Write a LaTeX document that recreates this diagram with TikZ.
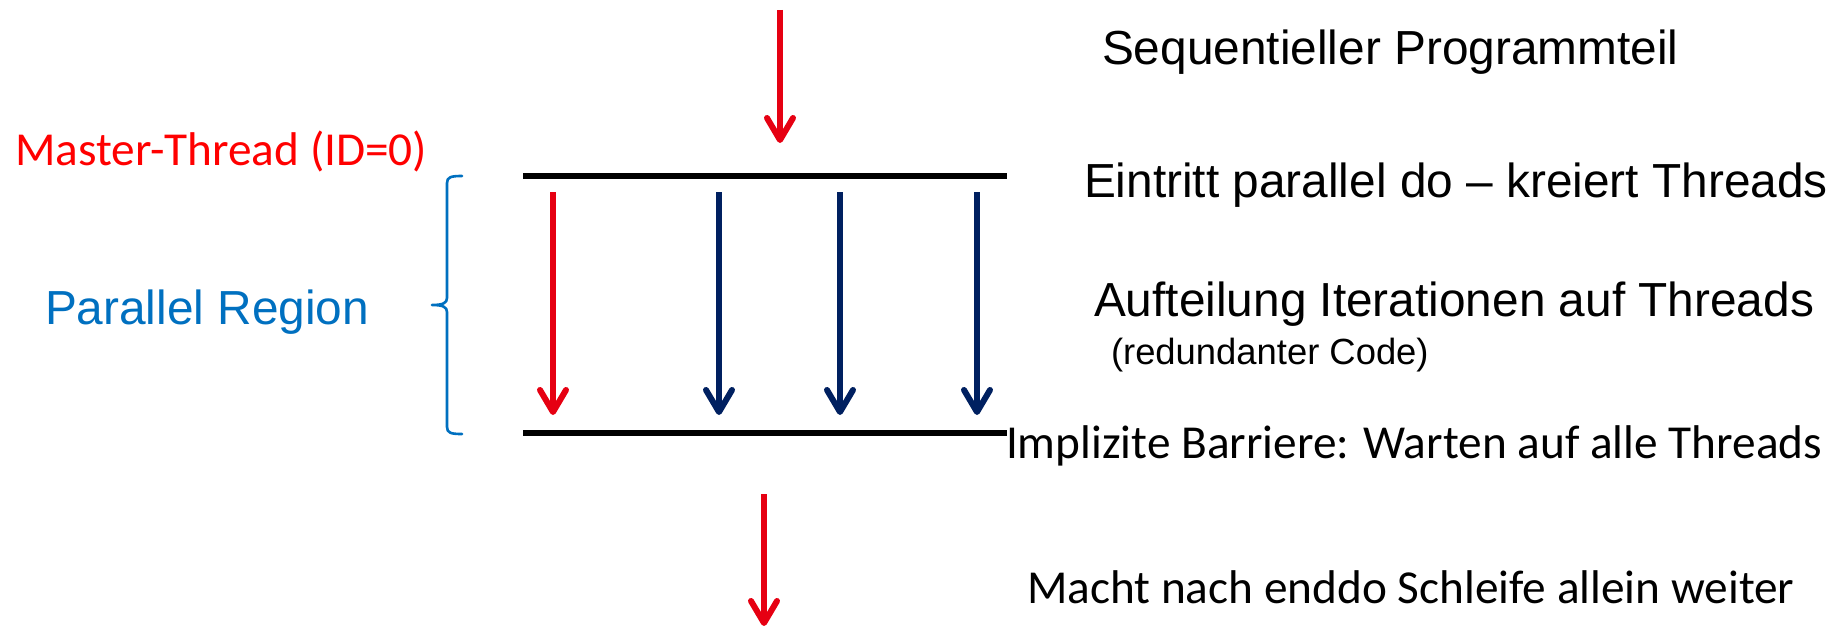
\documentclass[tikz,border=0pt]{standalone}
\usepackage{fontspec}
\newfontfamily\arialf{Liberation Sans}
\newfontfamily\calibrif{Carlito}
\usetikzlibrary{arrows.meta}
\definecolor{arrred}{RGB}{230,0,18}
\definecolor{txtred}{RGB}{255,0,0}
\definecolor{navy}{RGB}{0,32,96}
\definecolor{regblue}{RGB}{0,112,192}
\tikzset{
  thr/.style={line width=5.5pt,-{Straight Barb[length=22pt,width=26pt,line width=6pt,line cap=round,line join=round]}},
  barrier/.style={line width=6.5pt,black},
  lbl/.style={anchor=base west,inner sep=0pt,outer sep=0pt},
  arbig/.style={lbl,font=\arialf\fontsize{47.8}{57}\selectfont},
  arsmall/.style={lbl,font=\arialf\fontsize{36.4}{44}\selectfont},
  calbig/.style={lbl,font=\calibrif\fontsize{47.3}{57}\selectfont},
}
\begin{document}
\begin{tikzpicture}[x=1pt,y=-1pt]
\useasboundingbox[fill=white] (0,0) rectangle (1847,626);
% coordinates
\coordinate (s0) at (780,10);  \coordinate (e0) at (780,143);
\coordinate (s1) at (553,192); \coordinate (e1) at (553,415);
\coordinate (s2) at (719,192); \coordinate (e2) at (719,415);
\coordinate (s3) at (840,192); \coordinate (e3) at (840,415);
\coordinate (s4) at (977,192); \coordinate (e4) at (977,415);
\coordinate (s5) at (764,494); \coordinate (e5) at (764,626);
\coordinate (b1l) at (523,176); \coordinate (b1r) at (1007,176);
\coordinate (b2l) at (523,433); \coordinate (b2r) at (1007,433);
% barriers
\draw[barrier] (b1l) -- (b1r);
\draw[barrier] (b2l) -- (b2r);
% threads
\draw[thr,arrred] (s0) -- (e0);
\draw[thr,arrred] (s1) -- (e1);
\draw[thr,navy] (s2) -- (e2);
\draw[thr,navy] (s3) -- (e3);
\draw[thr,navy] (s4) -- (e4);
\draw[thr,arrred] (s5) -- (e5);
% brace
\draw[regblue,line width=2.6pt,line cap=round,line join=round]
  (462,176) .. controls (451,176) and (447,177) .. (447,183)
  -- (447,298) .. controls (447,303) and (443,305) .. (432,305)
  .. controls (443,305) and (447,307) .. (447,312)
  -- (447,427) .. controls (447,433) and (451,434) .. (462,434);
% labels
\node[calbig,text=txtred] (master) at (15,165) {Master-Thread (ID=0)};
\node[arbig,text=regblue] (region) at (45,324) {Parallel Region};
\node[arbig] (seq) at (1102,65) {Sequentieller Programmteil};
\node[arbig] (entry) at (1084,197) {Eintritt parallel do – kreiert Threads};
\node[arbig] (split) at (1094,316) {Aufteilung Iterationen auf Threads};
\node[arsmall] (red) at (1111,364) {(redundanter Code)};
\node[calbig] (barr) at (1006,458) {Implizite Barriere: Warten auf alle Threads};
\node[calbig] (cont) at (1027,603) {Macht nach enddo Schleife allein weiter};
\end{tikzpicture}
\end{document}
